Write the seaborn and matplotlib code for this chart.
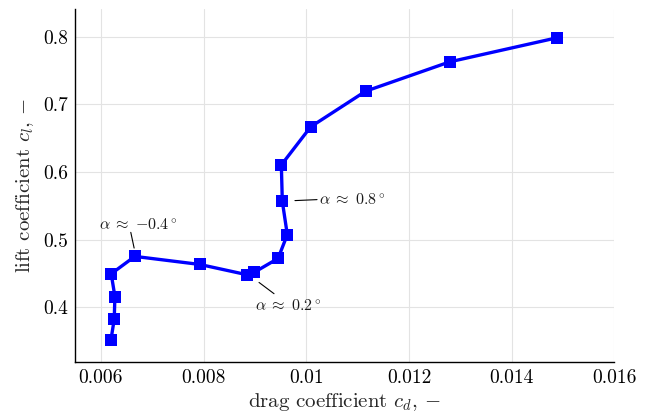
import matplotlib
matplotlib.use("Agg")
import matplotlib.pyplot as plt
from matplotlib.transforms import offset_copy
import seaborn as sns
import pandas as pd

# Drag polar: lift coefficient versus drag coefficient
cd = [0.006195, 0.006259, 0.006272, 0.006200, 0.006660, 0.007926, 0.008852,
      0.008982, 0.009450, 0.009630, 0.009533, 0.009514, 0.010086, 0.011156,
      0.012796, 0.014883]
cl = [0.352, 0.3825, 0.416, 0.4496, 0.4753, 0.4634, 0.4481, 0.4516, 0.4723,
      0.5074, 0.5567, 0.6104, 0.6667, 0.7193, 0.7627, 0.7982]

x_ticks = [0.006, 0.008, 0.010, 0.012, 0.014, 0.016]
x_tick_labels = ["0.006", "0.008", "0.01", "0.012", "0.014", "0.016"]
y_ticks = [0.4, 0.5, 0.6, 0.7, 0.8]
y_tick_labels = ["0.4", "0.5", "0.6", "0.7", "0.8"]

# Angle-of-attack annotations: label and index of the annotated point
annot_labels = [r"$\alpha\;\approx\;{-}0.4^\circ$", r"$\alpha\;\approx\;0.2^\circ$",
                r"$\alpha\;\approx\;0.8^\circ$"]
annot_index = [4, 7, 10]

sns.set_theme(style="whitegrid")
plt.rcParams.update({
    "font.family": "serif",
    "font.serif": ["cmr10"],
    "mathtext.fontset": "cm",
    "axes.unicode_minus": False,
    "axes.formatter.use_mathtext": True,
})

df = pd.DataFrame({"cd": cd, "cl": cl})

fig = plt.figure(figsize=(6.5, 4.19), dpi=100)
ax = fig.add_axes([0.1158, 0.136, 0.8293, 0.8425])

sns.lineplot(data=df, x="cd", y="cl", sort=False, estimator=None, ax=ax,
             color="#0000ff", linewidth=2.4, marker="s", markersize=8,
             markeredgewidth=0, markerfacecolor="#0000ff")

ax.set_xlim(0.0055, 0.016)
ax.set_ylim(0.3193, 0.8407)
ax.set_xticks(x_ticks)
ax.set_xticklabels(x_tick_labels)
ax.set_yticks(y_ticks)
ax.set_yticklabels(y_tick_labels)

ax.grid(True, color="#e3e3e3", linewidth=0.8)
ax.set_facecolor("white")
for side in ["top", "right"]:
    ax.spines[side].set_visible(False)
for side in ["left", "bottom"]:
    ax.spines[side].set_visible(True)
    ax.spines[side].set_color("black")
    ax.spines[side].set_linewidth(1.0)

ax.tick_params(axis="both", direction="in", length=5, width=0.8,
               colors="black", labelsize=14, pad=5)

ax.set_xlabel(r"drag coefficient $c_d, -$", fontsize=15, labelpad=3)
ax.set_ylabel(r"lift coefficient $c_l, -$", fontsize=15, labelpad=5)

# Leader lines (start, end) and label anchor, in points relative to the point
line_offsets = [((-2.9, 17.3), (-0.5, 6.0)),
                ((3.6, -7.2), (14.4, -15.3)),
                ((9.1, 0.5), (25.0, 1.2))]
text_offsets = [(2.4, 22.8), (24.5, -24.0), (26.4, 1.0)]
aligns = [("center", "center"), ("center", "center"), ("left", "center")]

for lab, idx, (p0, p1), tp, al in zip(annot_labels, annot_index, line_offsets,
                                      text_offsets, aligns):
    xy = (cd[idx], cl[idx])
    t0 = offset_copy(ax.transData, fig=fig, x=p0[0], y=p0[1], units="points")
    t1 = offset_copy(ax.transData, fig=fig, x=p1[0], y=p1[1], units="points")
    ax.annotate("", xy=xy, xycoords=t1, xytext=xy, textcoords=t0,
                arrowprops=dict(arrowstyle="-", color="black", lw=0.8,
                                shrinkA=0, shrinkB=0))
    ax.annotate(lab, xy=xy, xytext=tp, textcoords="offset points",
                fontsize=11.5, ha=al[0], va=al[1], color="#1a1a1a")

fig.savefig("out.png", dpi=100, facecolor="white")
